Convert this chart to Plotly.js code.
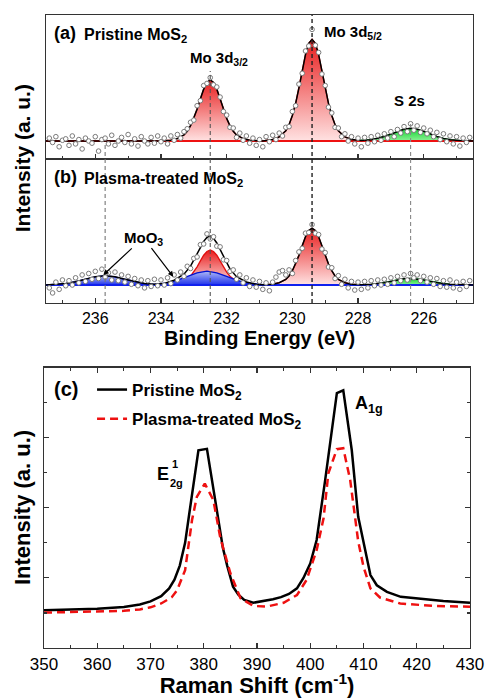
<!DOCTYPE html>
<html>
<head>
<meta charset="utf-8">
<script src="https://cdn.plot.ly/plotly-3.0.1.min.js"></script>
<style>html,body{margin:0;padding:0;background:#fff;}#chart{width:486px;height:698px;}</style>
</head>
<body>
<div id="chart"></div>
<script>
// ---------- XPS (binding energy, eV) ----------
var ptX = [237.4,237.3,237.2,237.1,237.0,236.9,236.8,236.7,236.6,236.5,
236.4,236.3,236.2,236.1,236.0,235.9,235.8,235.7,235.6,235.5,
235.4,235.3,235.2,235.1,235.0,234.9,234.8,234.7,234.6,234.5,
234.4,234.3,234.2,234.1,234.0,233.9,233.8,233.7,233.6,233.5,
233.4,233.3,233.2,233.1,233.0,232.9,232.8,232.7,232.6,232.5,
232.4,232.3,232.2,232.1,232.0,231.9,231.8,231.7,231.6,231.5,
231.4,231.3,231.2,231.1,231.0,230.9,230.8,230.7,230.6,230.5,
230.4,230.3,230.2,230.1,230.0,229.9,229.8,229.7,229.6,229.5,
229.4,229.3,229.2,229.1,229.0,228.9,228.8,228.7,228.6,228.5,
228.4,228.3,228.2,228.1,228.0,227.9,227.8,227.7,227.6,227.5,
227.4,227.3,227.2,227.1,227.0,226.9,226.8,226.7,226.6,226.5,
226.4,226.3,226.2,226.1,226.0,225.9,225.8,225.7,225.6,225.5,
225.4,225.3,225.2,225.1,225.0,224.9,224.8,224.7,224.6];
var ptA = [1.45,1.15,1.55,0.85,1.30,1.40,0.95,1.60,1.05,1.35,
0.70,1.45,1.25,1.10,1.55,0.55,1.35,1.45,1.05,1.65,
0.95,1.25,1.50,1.15,1.70,1.05,1.40,0.90,1.55,1.25,
1.05,1.50,1.10,1.60,1.20,1.45,1.05,1.60,1.30,1.70,
1.45,1.90,2.10,2.55,2.70,3.70,4.05,5.10,5.25,5.65,
5.15,5.00,4.30,3.30,3.05,2.20,2.15,1.50,1.80,1.30,
1.60,1.10,1.45,0.95,1.35,0.85,1.55,1.20,1.65,1.35,
1.80,1.60,2.20,2.25,3.30,3.70,5.20,5.95,7.50,7.85,
9.00,7.90,7.40,5.90,5.10,3.60,3.20,2.20,2.15,1.55,
1.75,1.25,1.55,1.05,1.45,0.85,1.50,1.10,1.55,1.20,
1.65,1.30,1.75,1.45,1.90,1.55,2.05,1.80,2.25,1.90,
2.45,2.00,2.30,1.85,2.15,1.75,2.00,1.55,1.85,1.35,
1.75,1.20,1.60,1.05,1.55,0.90,1.45,1.15,1.50];
var ptB = [1.05,0.70,1.45,0.95,1.60,1.20,1.55,1.25,1.75,1.40,
1.95,1.50,2.05,1.65,2.20,1.70,2.35,1.80,2.10,1.60,
2.15,1.55,1.95,1.45,1.85,1.30,1.70,1.20,1.60,1.05,
1.55,1.15,1.65,1.20,1.60,1.25,1.75,1.35,1.95,1.60,
2.15,1.85,2.55,2.40,3.10,3.20,4.05,4.10,4.80,4.45,
4.60,3.95,3.90,3.00,2.95,2.20,2.30,1.65,1.95,1.40,
1.75,1.15,1.60,1.10,1.50,0.95,1.40,0.85,1.45,1.80,
2.15,2.25,1.95,2.30,2.05,2.95,3.55,3.80,4.85,4.90,
5.45,4.85,4.75,3.75,3.50,2.50,2.45,1.70,1.90,1.30,
1.65,1.05,1.50,0.90,1.45,0.95,1.50,1.05,1.55,1.20,
1.60,1.25,1.65,1.30,1.75,1.40,1.85,1.55,1.95,1.60,
2.05,1.75,1.95,1.55,1.85,1.45,1.75,1.30,1.70,1.15,
1.55,1.10,1.60,1.05,1.45,0.95,1.50,1.15,1.55];

var p32X = [234.0,233.7,233.5,233.3,233.2,233.1,233.0,232.9,232.8,232.7,232.6,232.5,232.4,232.3,232.2,232.1,232.0,231.9,231.8,231.7,231.5,231.3,231.0];
var p52X = [230.9,230.6,230.4,230.2,230.1,230.0,229.9,229.8,229.7,229.6,229.5,229.4,229.3,229.2,229.1,229.0,228.9,228.8,228.7,228.6,228.4,228.2,227.9];
var s2sX = [228.2,227.9,227.6,227.4,227.2,227.0,226.8,226.6,226.4,226.2,226.0,225.8,225.6,225.4,225.2,224.9,224.6];
var moo1X = [237.5,237.2,236.9,236.6,236.3,236.0,235.7,235.4,235.1,234.8,234.5,234.2,233.9];
var moo2X = [234.4,234.1,233.8,233.5,233.2,232.9,232.6,232.3,232.0,231.7,231.4,231.1,230.8];
var baseX = [237.5,224.5];

var a32Y = [1.25,1.31,1.42,1.67,1.93,2.31,2.82,3.45,4.18,4.85,5.32,5.49,5.32,4.85,4.18,3.45,2.82,2.31,1.93,1.67,1.42,1.31,1.25];
var a52Y = [1.25,1.36,1.53,1.96,2.38,3.02,3.86,4.92,6.12,7.25,8.03,8.31,8.03,7.25,6.12,4.92,3.86,3.02,2.38,1.96,1.53,1.36,1.25];
var aS2sY = [1.25,1.28,1.34,1.43,1.56,1.73,1.92,2.07,2.13,2.07,1.92,1.73,1.56,1.43,1.34,1.28,1.25];
var aBaseY = [1.25,1.25];
var aEnvX = [237.5,234.0,233.7,233.5,233.3,233.2,233.1,233.0,232.9,232.8,232.7,232.6,232.5,232.4,232.3,232.2,232.1,232.0,231.9,231.8,231.7,231.5,231.3,231.0,
230.9,230.6,230.4,230.2,230.1,230.0,229.9,229.8,229.7,229.6,229.5,229.4,229.3,229.2,229.1,229.0,228.9,228.8,228.7,228.6,228.4,228.2,
227.9,227.6,227.4,227.2,227.0,226.8,226.6,226.4,226.2,226.0,225.8,225.6,225.4,225.2,224.9,224.6,224.5];
var aEnvY = [1.25,1.25,1.31,1.42,1.67,1.93,2.31,2.82,3.45,4.18,4.85,5.32,5.49,5.32,4.85,4.18,3.45,2.82,2.31,1.93,1.67,1.42,1.31,1.25,
1.25,1.36,1.53,1.96,2.38,3.02,3.86,4.92,6.12,7.25,8.03,8.31,8.03,7.25,6.12,4.92,3.86,3.02,2.38,1.96,1.53,1.36,
1.28,1.34,1.43,1.56,1.73,1.92,2.07,2.13,2.07,1.92,1.73,1.56,1.43,1.34,1.28,1.25,1.25];

var b32Y = [1.25,1.29,1.35,1.49,1.64,1.86,2.15,2.51,2.93,3.32,3.58,3.68,3.58,3.32,2.93,2.51,2.15,1.86,1.64,1.49,1.35,1.29,1.25];
var b52Y = [1.25,1.31,1.41,1.64,1.88,2.24,2.71,3.30,3.97,4.60,5.03,5.19,5.03,4.60,3.97,3.30,2.71,2.24,1.88,1.64,1.41,1.31,1.25];
var moo1Y = [1.25,1.28,1.35,1.48,1.65,1.82,1.90,1.82,1.65,1.48,1.35,1.28,1.25];
var moo2Y = [1.25,1.30,1.40,1.59,1.85,2.10,2.22,2.10,1.85,1.59,1.40,1.30,1.25];
var bS2sY = [1.25,1.26,1.30,1.34,1.41,1.50,1.60,1.68,1.71,1.68,1.60,1.50,1.41,1.34,1.30,1.26,1.25];
var bBaseY = [1.25,1.25];
var bEnvX = [237.5,237.2,236.9,236.6,236.3,236.0,235.7,235.4,235.1,234.8,234.5,234.2,233.9,233.6,233.3,233.1,232.9,232.8,232.7,232.6,232.5,232.4,232.3,232.2,232.1,231.9,231.7,231.4,231.1,
230.9,230.6,230.4,230.2,230.1,230.0,229.9,229.8,229.7,229.6,229.5,229.4,229.3,229.2,229.1,229.0,228.9,228.8,228.7,228.6,228.4,228.2,
227.9,227.6,227.4,227.2,227.0,226.8,226.6,226.4,226.2,226.0,225.8,225.6,225.4,225.2,224.9,224.6,224.5];
var bEnvY = [1.25,1.28,1.35,1.48,1.65,1.82,1.90,1.82,1.65,1.48,1.35,1.31,1.36,1.58,2.00,2.56,3.36,3.84,4.28,4.55,4.64,4.49,4.17,3.70,3.21,2.37,1.83,1.46,1.30,
1.26,1.31,1.41,1.64,1.88,2.24,2.71,3.30,3.97,4.60,5.03,5.19,5.03,4.60,3.97,3.30,2.71,2.24,1.88,1.64,1.41,1.31,
1.26,1.30,1.34,1.41,1.50,1.60,1.68,1.71,1.68,1.60,1.50,1.41,1.34,1.30,1.26,1.25,1.25];

// peak positions (eV) for the guide lines
var peakLines = [235.7, 232.5, 229.4, 226.4];

// ---------- Raman (cm^-1) ----------
var ramanPX = [350,355,360,365,368,370,372,373.5,374.5,375.5,376.5,377.3,379.0,380.6,382.7,383.6,384.4,385.5,386.5,387.6,
389.3,391.2,393.0,394.5,396.0,397.5,398.7,400.0,401.2,402.8,405.0,406.2,407.8,409.0,410.3,411.3,412.5,414.4,417.0,421.0,425.0,430.0];
var ramanPY = [1.08,1.10,1.12,1.17,1.24,1.33,1.48,1.70,1.95,2.35,3.00,3.85,5.64,5.68,3.75,2.85,2.35,1.75,1.52,1.37,
1.29,1.34,1.39,1.45,1.54,1.70,1.99,2.41,3.08,4.79,7.27,7.35,5.64,3.75,2.79,2.08,1.79,1.60,1.46,1.39,1.34,1.29];
var ramanTX = [350,355,360,365,368,370,372,374,375,376.5,377.8,378.7,380.2,381.8,382.5,383.1,385.0,386.9,389.3,391.8,
395.0,397.5,399.3,401.2,402.5,403.4,405.0,406.2,407.5,408.4,409.0,410.0,411.3,413.1,416.9,423.1,430];
var ramanTY = [1.01,1.02,1.03,1.06,1.10,1.16,1.27,1.45,1.65,2.22,3.65,4.31,4.69,4.22,3.65,3.15,2.13,1.42,1.20,1.18,
1.29,1.51,1.94,2.79,3.70,4.98,5.67,5.70,4.79,3.65,3.05,2.32,1.70,1.44,1.27,1.20,1.18];

var FONT = 'Liberation Sans, Arial, Helvetica, sans-serif';
var redGrad = {type:'vertical', colorscale:[[0,'rgb(255,226,226)'],[1,'rgb(232,28,28)']]};
var blueGrad = {type:'vertical', colorscale:[[0,'rgb(30,50,235)'],[1,'rgb(175,185,246)']]};
var greenGrad = {type:'vertical', colorscale:[[0,'rgb(140,240,150)'],[1,'rgb(15,215,45)']]};

function fillTrace(x, y, xa, ya, grad, lc) {
  return {x:x, y:y, xaxis:xa, yaxis:ya, type:'scatter', mode:'lines', fill:'toself',
    fillgradient:grad, line:{color:lc, width:1.3}, showlegend:false, hoverinfo:'skip'};
}
function lineTrace(x, y, xa, ya, c, w) {
  return {x:x, y:y, xaxis:xa, yaxis:ya, type:'scatter', mode:'lines', line:{color:c, width:w}, showlegend:false};
}
function ptsTrace(x, y, xa, ya) {
  return {x:x, y:y, xaxis:xa, yaxis:ya, type:'scatter', mode:'markers',
    marker:{symbol:'circle', size:4.6, color:'white', line:{color:'#7a7a7a', width:1}}, showlegend:false};
}

var data = [
  fillTrace(p32X, a32Y, 'x', 'y', redGrad, '#e01010'),
  fillTrace(p52X, a52Y, 'x', 'y', redGrad, '#e01010'),
  fillTrace(s2sX, aS2sY, 'x', 'y', greenGrad, '#10b030'),
  lineTrace(baseX, aBaseY, 'x', 'y', '#ee1111', 2),
  lineTrace(aEnvX, aEnvY, 'x', 'y', '#000000', 1.5),
  ptsTrace(ptX, ptA, 'x', 'y'),

  fillTrace(p32X, b32Y, 'x2', 'y2', redGrad, '#e01010'),
  fillTrace(p52X, b52Y, 'x2', 'y2', redGrad, '#e01010'),
  fillTrace(moo1X, moo1Y, 'x2', 'y2', blueGrad, '#0010d0'),
  fillTrace(moo2X, moo2Y, 'x2', 'y2', blueGrad, '#0010d0'),
  fillTrace(s2sX, bS2sY, 'x2', 'y2', greenGrad, '#10b030'),
  lineTrace(baseX, bBaseY, 'x2', 'y2', '#1020ee', 2),
  lineTrace(bEnvX, bEnvY, 'x2', 'y2', '#000000', 1.5),
  ptsTrace(ptX, ptB, 'x2', 'y2'),

  {x:ramanPX, y:ramanPY, xaxis:'x3', yaxis:'y3', type:'scatter', mode:'lines',
   name:'Pristine MoS<sub>2</sub>', legendgroup:'g1', line:{color:'#000', width:2.5}},
  {x:ramanTX, y:ramanTY, xaxis:'x3', yaxis:'y3', type:'scatter', mode:'lines',
   name:'Plasma-treated MoS<sub>2</sub>', legendgroup:'g2', line:{color:'#ee1111', width:2.5, dash:'8px,5px'}}
];

var axLine = {showline:true, linecolor:'#333', linewidth:1.3, mirror:true, showgrid:false, zeroline:false};
function merge(a, b) { var o = {}; for (var k in a) o[k] = a[k]; for (var k2 in b) o[k2] = b[k2]; return o; }

var xpsX = merge(axLine, {range:[237.5,224.5], ticks:'inside', ticklen:5, tickwidth:1.2, tickcolor:'#333',
  tick0:0, dtick:2, minor:{ticks:'inside', ticklen:3, dtick:1, tickcolor:'#333'}});

var shapes = [];
var lineTop = [0.7946, 0.9116, 1.0, 0.8326];
var lineCol = ['#777', '#555', '#222', '#888'];
for (var i = 0; i < peakLines.length; i++) {
  shapes.push({type:'line', xref:'x', yref:'paper', x0:peakLines[i], x1:peakLines[i],
    y0:0.545, y1:lineTop[i], line:{color:lineCol[i], width:(i === 2 ? 1.4 : 1.1), dash:'4px,3px'}, layer:'above'});
}

function ann(text, x, y, size, opts) {
  var a = {text:text, x:x, y:y, xref:'paper', yref:'paper', showarrow:false, xanchor:'left', yanchor:'middle',
    font:{family:FONT, size:size, color:'#000', weight:'bold'}};
  if (opts) for (var k in opts) a[k] = opts[k];
  return a;
}

var annotations = [
  ann('(a)', 0.0186, 0.9716, 18),
  ann('Pristine MoS<sub>2</sub>', 0.0886, 0.9684, 16),
  ann('(b)', 0.0186, 0.7441, 18),
  ann('Plasma-treated MoS<sub>2</sub>', 0.0886, 0.7409, 16),
  ann('Mo 3d<sub>3/2</sub>', 0.3357, 0.9305, 15),
  ann('Mo 3d<sub>5/2</sub>', 0.648, 0.9731, 15),
  ann('S 2s', 0.8531, 0.8657, 15, {xanchor:'center'}),
  ann('MoO<sub>3</sub>', 0.2331, 0.6477, 15, {xanchor:'center'}),
  {text:'', x:0.1382, y:0.5893, xref:'paper', yref:'paper', showarrow:true, ax:30, ay:-28,
   arrowhead:2, arrowsize:0.9, arrowwidth:1.2, arrowcolor:'#000', standoff:0, startstandoff:0},
  {text:'', x:0.3014, y:0.5866, xref:'paper', yref:'paper', showarrow:true, ax:-23, ay:-30,
   arrowhead:2, arrowsize:0.9, arrowwidth:1.2, arrowcolor:'#000', standoff:0, startstandoff:0},
  ann('Intensity (a. u.)', -0.0483, 0.7741, 21, {xanchor:'center', textangle:-90}),
  ann('(c)', 0.0186, 0.4092, 20),
  ann('E', 0.2774, 0.2749, 18, {xanchor:'center'}),
  ann('1', 0.3042, 0.2907, 11, {xanchor:'center'}),
  ann('2g', 0.3100, 0.2607, 11, {xanchor:'center'}),
  ann('A<sub>1g</sub>', 0.7203, 0.3839, 18),
  ann('Intensity (a. u.)', -0.0483, 0.2215, 22, {xanchor:'center', textangle:-90})
];

var layout = {
  width:486, height:698,
  margin:{l:44, r:13, t:15, b:50},
  paper_bgcolor:'#fff', plot_bgcolor:'#fff',
  font:{family:FONT, color:'#000'},
  showlegend:true,
  legend:{x:0.112, y:0.436, xanchor:'left', yanchor:'top', bgcolor:'rgba(0,0,0,0)',
    font:{family:FONT, size:17, weight:'bold', color:'#000'}, tracegroupgap:4, traceorder:'grouped'},
  xaxis: merge(xpsX, {domain:[0.0047,1], anchor:'y', showticklabels:false}),
  yaxis: merge(axLine, {domain:[0.7725,1], anchor:'x', range:[0,10], showticklabels:false, ticks:''}),
  xaxis2: merge(xpsX, {domain:[0.0047,1], anchor:'y2', showticklabels:true,
    tickfont:{family:FONT, size:16, color:'#000'},
    title:{text:'Binding Energy (eV)', font:{family:FONT, size:20, weight:'bold', color:'#000'}, standoff:3}}),
  yaxis2: merge(axLine, {domain:[0.545,0.7725], anchor:'x2', range:[0,10], showticklabels:false, ticks:''}),
  xaxis3: merge(axLine, {domain:[0,0.993], anchor:'y3', range:[350,430], mirror:'ticks',
    ticks:'inside', ticklen:5, tickwidth:1.2, tickcolor:'#333', dtick:10,
    minor:{ticks:'inside', ticklen:3, dtick:5, tickcolor:'#333'},
    tickfont:{family:FONT, size:17, color:'#000'},
    title:{text:'Raman Shift (cm<sup>-1</sup>)', font:{family:FONT, size:22, weight:'bold', color:'#000'}, standoff:3}}),
  yaxis3: merge(axLine, {domain:[0,0.4431], anchor:'x3', range:[0,8], mirror:'ticks', showticklabels:false,
    ticks:'inside', ticklen:5, tickwidth:1.2, tickcolor:'#333', dtick:2,
    minor:{ticks:'inside', ticklen:3, dtick:1, tickcolor:'#333'}}),
  shapes:shapes,
  annotations:annotations
};

Plotly.newPlot('chart', data, layout, {displayModeBar:false, staticPlot:true});
</script>
</body>
</html>
